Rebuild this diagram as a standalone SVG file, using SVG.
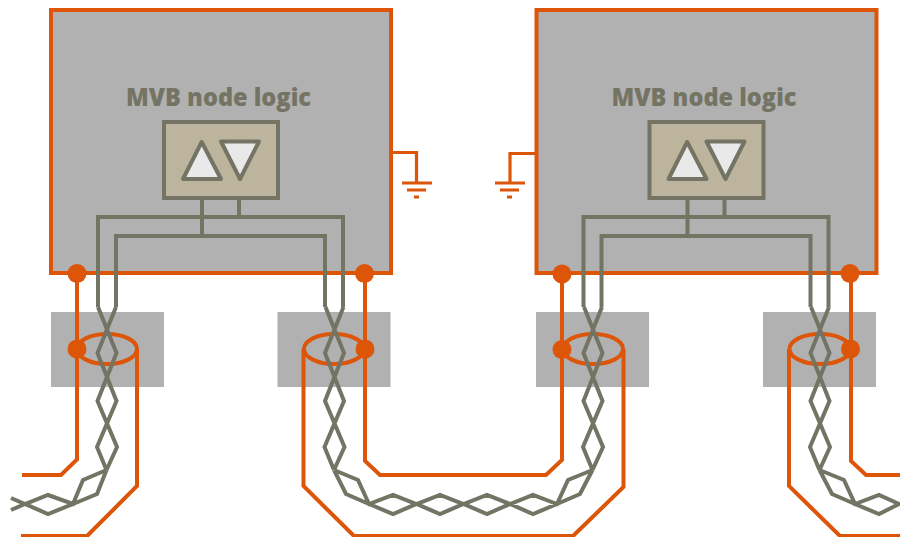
<svg xmlns="http://www.w3.org/2000/svg" width="900" height="537" viewBox="0 0 900 537">
<style>
.box{fill:#b1b1b1;stroke:#dc5508;stroke-width:4;stroke-linejoin:miter}
.mod{fill:#b1b1b1}
.or{fill:none;stroke:#dc5508;stroke-width:4;stroke-linejoin:miter}
.gnd{fill:none;stroke:#dc5508;stroke-width:3.200}
.wire{fill:none;stroke:#747464;stroke-width:4;stroke-linejoin:miter}
.dot{fill:#dc5508}
.drv{fill:#bdb49d;stroke:#747464;stroke-width:4}
.tri{fill:#e9e9e9;stroke:#747464;stroke-width:4;stroke-linejoin:round}
.lbl{font-family:"Open Sans","Noto Sans",sans-serif;font-weight:800;font-size:25.500px;fill:#747464;text-anchor:middle}
</style>
<defs>
<g id="logic">
<rect class="box" x="51" y="10" width="340" height="263"/>
<text class="lbl" x="218.500" y="106" textLength="185" lengthAdjust="spacingAndGlyphs">MVB node logic</text>
<path class="wire" d="M202 198V236M239 198V217M98 307V217H343V307M116 307V236H325V307"/>
<rect class="drv" x="164" y="122" width="114" height="76"/>
<path class="tri" d="M201.700 142L183 179H221Z"/>
<path class="tri" d="M221 141.500H259L240 179Z"/>
</g>
<path id="twist" class="wire" d="M-9 307L9.500 353L-9.500 401L10 447L-0.500 470M9 307L-9.500 353L9.500 401L-10 447L-0.500 470"/>
</defs>

<g id="node-left"><use href="#logic"/></g>
<g id="node-right"><use href="#logic" transform="translate(485.500 0)"/></g>

<g id="ground-left">
<path class="gnd" d="M391 152.500H416.500V182"/>
<path class="gnd" d="M402 183H432M407 190H426M414 197H419"/>
</g>
<g id="ground-right">
<path class="gnd" d="M536 153.500H510V182"/>
<path class="gnd" d="M495 183H525M500 190H519M507 197H512"/>
</g>

<g id="coupler-1"><rect class="mod" x="51" y="312" width="113" height="75"/></g>
<g id="coupler-2"><rect class="mod" x="277.500" y="312" width="113" height="75"/></g>
<g id="coupler-3"><rect class="mod" x="536" y="312" width="113" height="75"/></g>
<g id="coupler-4"><rect class="mod" x="763" y="312" width="113" height="75"/></g>

<g id="connectors">
<g id="shields">
<path class="or" d="M77 273V459.500L61 475H22"/>
<path class="or" d="M137 349V486L87 536H21"/>
<ellipse class="or" cx="107" cy="349" rx="30" ry="15"/>
<path class="or" d="M365 273V461L380 475H546L562 460V273"/>
<path class="or" d="M303.500 349V486L354 536H573L623.500 487V349"/>
<ellipse class="or" cx="334" cy="349" rx="30" ry="15"/>
<ellipse class="or" cx="593" cy="349" rx="30" ry="15"/>
<path class="or" d="M851 273V461L866 475H900"/>
<path class="or" d="M789 349V486L840 536H900"/>
<ellipse class="or" cx="820" cy="349" rx="30.500" ry="15"/>
</g>
<g id="pairs">
<use href="#twist" transform="translate(107 0)"/>
<use href="#twist" transform="translate(334.500 0)"/>
<use href="#twist" transform="translate(593 0)"/>
<use href="#twist" transform="translate(820 0)"/>
<path class="wire" d="M106.500 470L83 480L73 504L48 495L25 504L11 498M106.500 470L97 494L73 504L48 514L25 504L11 510"/>
<path class="wire" d="M334 470L358 480L369 504L393 495L416.500 504L440 495L463.500 504L487 495L510 504L533 495L557 504L568 480L592.500 470M334 470L346 494L369 504L393 514L416.500 504L440 514L463.500 504L487 514L510 504L533 514L557 504L580 494L592.500 470"/>
<path class="wire" d="M819.500 470L844 480L855 504L879 495L899 504L879 514L855 504L832 494L819.500 470"/>
</g>
<g id="dots">
<circle class="dot" cx="77" cy="273.500" r="9.500"/>
<circle class="dot" cx="77" cy="349" r="9.500"/>
<circle class="dot" cx="364.500" cy="273.500" r="9.500"/>
<circle class="dot" cx="365" cy="349" r="9.500"/>
<circle class="dot" cx="562" cy="274" r="9.500"/>
<circle class="dot" cx="562" cy="349.500" r="9.500"/>
<circle class="dot" cx="850" cy="273.500" r="9.500"/>
<circle class="dot" cx="850.500" cy="349" r="9.500"/>
</g>
</g>
</svg>
